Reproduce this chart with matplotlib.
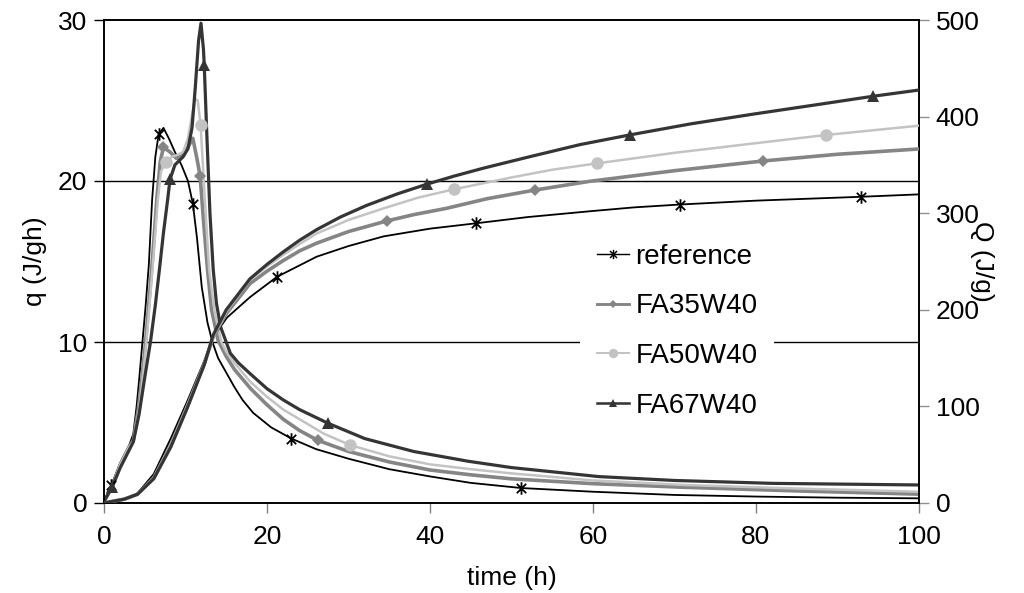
import numpy as np
import matplotlib
matplotlib.use('Agg')
import matplotlib.pyplot as plt
from matplotlib.path import Path
from matplotlib.lines import Line2D

plt.rcParams['font.family'] = ['Liberation Sans', 'DejaVu Sans']

# ---------------------------------------------------------------------------------------------------------------------
# heat flow q (J/gh), left axis

t_ref_q = [0, 0.9, 2.0, 3.1, 3.6, 4.0, 4.3, 4.7, 5.1, 5.5, 5.9, 6.3, 6.7, 7.3, 8.0, 8.7, 9.5, 10.3, 10.9, 11.4,
           12.0, 12.7, 13.3, 14.0, 15.0, 16.0, 17.0, 18.3, 20.5, 23.0, 26, 30, 35, 40, 45, 51.2, 60, 70, 80, 90, 100]
q_ref = [0.1, 1.1, 2.5, 3.6, 4.3, 6.0, 7.6, 9.9, 12.2, 14.8, 18.8, 21.5, 22.9, 23.3, 22.6, 21.8, 21.0, 20.0, 18.6, 16.5,
         13.4, 11.2, 10.0, 9.0, 8.1, 7.2, 6.4, 5.6, 4.7, 4.0, 3.35, 2.75, 2.1, 1.65, 1.25, 0.93, 0.7, 0.5, 0.4, 0.33, 0.29]

t_fa35_q = [0, 1.0, 2.0, 3.1, 3.6, 4.2, 4.7, 5.1, 5.6, 6.0, 6.5, 6.9, 7.3, 8.1, 8.9, 9.7, 10.3, 10.9, 11.4, 11.8,
            12.2, 12.7, 13.2, 14.0, 15.0, 16.0, 18.0, 20.0, 22.0, 24.0, 26.2, 30, 35, 40, 45, 50, 60, 71, 85, 100]
q_fa35 = [0.1, 1.0, 2.4, 3.5, 3.9, 5.8, 8.0, 10.0, 13.0, 15.5, 19.0, 21.2, 22.1, 21.8, 21.4, 21.6, 22.1, 22.65, 21.4, 20.3,
          17.6, 14.5, 12.0, 10.1, 9.1, 8.3, 7.1, 6.1, 5.2, 4.5, 3.9, 3.2, 2.55, 2.05, 1.75, 1.5, 1.2, 0.98, 0.75, 0.55]

t_fa50_q = [0, 1.0, 2.0, 3.1, 3.6, 4.3, 4.8, 5.2, 5.7, 6.1, 6.6, 7.0, 7.6, 8.3, 8.9, 9.7, 10.3, 10.8, 11.2, 11.5,
            11.85, 12.4, 12.9, 13.6, 14.4, 15.0, 16.0, 18.0, 20.0, 22.0, 24.0, 27.0, 30.2, 35, 40, 45, 50, 60, 71.3,
            85, 100]
q_fa50 = [0.1, 1.0, 2.4, 3.5, 3.8, 5.8, 8.0, 10.0, 13.0, 15.5, 18.8, 20.6, 21.2, 21.5, 21.6, 21.8, 22.65, 24.1, 25.1, 25.0,
          23.5, 18.6, 14.5, 11.8, 10.0, 9.4, 8.7, 7.5, 6.6, 5.8, 5.2, 4.3, 3.6, 2.9, 2.4, 2.1, 1.84, 1.4, 1.12,
          0.9, 0.7]

t_fa67_q = [0, 1.0, 2.0, 3.0, 3.6, 4.3, 5.0, 5.7, 6.3, 6.8, 7.3, 7.8, 8.1, 8.7, 9.7, 10.3, 10.8, 11.2, 11.6, 11.9,
            12.2, 12.3, 12.6, 13.0, 13.4, 13.8, 14.3, 15.5, 16.5, 18.0, 20.0, 22.0, 24.0, 27.5, 32, 38, 44.6, 50,
            60.7, 70, 82, 100]
q_fa67 = [0.1, 1.0, 2.2, 3.2, 3.8, 5.5, 7.8, 10.0, 12.3, 14.5, 16.8, 18.8, 20.1, 21.0, 21.5, 22.0, 23.3, 25.8, 28.7, 29.8,
          28.2, 27.2, 23.1, 18.0, 14.5, 12.4, 10.95, 9.3, 8.7, 8.0, 7.1, 6.4, 5.8, 4.95, 4.0, 3.2, 2.6, 2.2,
          1.64, 1.4, 1.22, 1.12]

# marker positions on the q curves
mt_ref_q, mq_ref = [0.9, 6.7, 10.9, 23.0, 51.2], [1.1, 22.9, 18.6, 4.0, 0.93]
mt_fa35_q, mq_fa35 = [7.3, 11.8, 26.2], [22.1, 20.3, 3.9]
mt_fa50_q, mq_fa50 = [7.6, 11.85, 30.2], [21.2, 23.5, 3.6]
mt_fa67_q, mq_fa67 = [1.0, 8.1, 12.3, 27.5], [1.0, 20.1, 27.2, 4.95]

# ---------------------------------------------------------------------------------------------------------------------
# cumulative heat Q (J/g), right axis

t_ref_Q = [0, 2.5, 4.1, 6.1, 8.2, 10.2, 12.3, 13.4, 15.1, 17.9, 21.2, 26.1, 30, 34.3, 40, 45.6, 52, 59.6, 65, 70.7,
           80, 92.9, 100]
Q_ref = [0, 4, 10, 30, 67, 105, 147, 172, 192, 213, 234, 255, 266, 276, 284, 289.5, 296, 302, 306, 309,
         313, 317, 319.5]

t_fa35_Q = [0, 2.5, 4.1, 6.1, 8.2, 10.2, 12.3, 13.4, 15.0, 17.9, 20.0, 22.0, 24.0, 26.1, 30, 34.7, 38, 42, 47, 52.9,
            59.6, 70, 80.8, 90, 100]
Q_fa35 = [0, 4, 9, 26, 60, 100, 144, 172, 196, 227, 240, 251, 261, 269, 281, 292, 298.5, 305, 315, 324,
          333, 344, 354, 361, 366.5]

t_fa50_Q = [0, 2.5, 4.1, 6.1, 8.2, 10.2, 12.3, 13.4, 15.0, 17.9, 20.0, 22.0, 24.0, 26.1, 30, 34.3, 38.5, 42.9, 50, 55,
            60.5, 70, 80, 88.6, 100]
Q_fa50 = [0, 4, 9, 26, 60, 100, 144, 172, 198, 231, 245, 257, 268, 279, 293, 305, 316, 324.7, 337, 345,
          351.6, 362.5, 372.5, 381, 390.6]

t_fa67_Q = [0, 2.5, 4.1, 6.1, 8.2, 10.2, 12.3, 13.4, 15.0, 17.9, 20.0, 22.0, 24.0, 26.1, 29, 32.2, 36, 39.6, 43, 46.5,
            52, 58.4, 64.5, 72, 80, 88, 94.3, 100]
Q_fa67 = [0, 4, 9, 25, 58, 98, 143, 174, 200, 232, 247, 260, 272, 283, 296, 308, 320, 330, 338.5, 346.5,
          358, 371, 381, 392.5, 403, 413, 421, 427.5]

mt_ref_Q, mQ_ref = [21.2, 45.6, 70.7, 92.9], [234, 289.5, 309, 317]
mt_fa35_Q, mQ_fa35 = [34.7, 52.9, 80.8], [292, 324, 354]
mt_fa50_Q, mQ_fa50 = [42.9, 60.5, 88.6], [324.7, 351.6, 381]
mt_fa67_Q, mQ_fa67 = [39.6, 64.5, 94.3], [330, 381, 421]

labels = ['reference', 'FA35W40', 'FA50W40', 'FA67W40']

# ---------------------------------------------------------------------------------------------------------------------
# styles

# excel style star: vertical bar plus a cross
star = Path([(0, -1), (0, 1), (-0.75, -0.75), (0.75, 0.75), (-0.75, 0.75), (0.75, -0.75)],
            [Path.MOVETO, Path.LINETO, Path.MOVETO, Path.LINETO, Path.MOVETO, Path.LINETO])

styles = {
    'reference': dict(color='black', lw=1.3, marker=star, ms=9, mew=1.3),
    'FA35W40': dict(color='#858585', lw=2.6, marker='D', ms=6, mew=0),
    'FA50W40': dict(color='#c3c3c3', lw=1.8, marker='o', ms=9, mew=0),
    'FA67W40': dict(color='#353535', lw=2.3, marker='^', ms=8, mew=0),
}

q_series = [(t_ref_q, q_ref, mt_ref_q, mq_ref), (t_fa35_q, q_fa35, mt_fa35_q, mq_fa35),
            (t_fa50_q, q_fa50, mt_fa50_q, mq_fa50), (t_fa67_q, q_fa67, mt_fa67_q, mq_fa67)]
Q_series = [(t_ref_Q, Q_ref, mt_ref_Q, mQ_ref), (t_fa35_Q, Q_fa35, mt_fa35_Q, mQ_fa35),
            (t_fa50_Q, Q_fa50, mt_fa50_Q, mQ_fa50), (t_fa67_Q, Q_fa67, mt_fa67_Q, mQ_fa67)]

fig = plt.figure(figsize=(10.24, 5.93), dpi=100)
ax = fig.add_axes([104 / 1024, (593 - 503) / 593, (919 - 104) / 1024, (503 - 20) / 593])
ax2 = ax.twinx()

fs = 19

for name, (t, v, mt, mv) in zip(labels, q_series):
    s = styles[name]
    ax.plot(t, v, color=s['color'], lw=s['lw'], zorder=3)
    ax.plot(mt, mv, ls='none', marker=s['marker'], ms=s['ms'], color=s['color'],
            mec=s['color'], mew=s['mew'], zorder=4)

for name, (t, v, mt, mv) in zip(labels, Q_series):
    s = styles[name]
    ax2.plot(t, v, color=s['color'], lw=s['lw'], zorder=3)
    ax2.plot(mt, mv, ls='none', marker=s['marker'], ms=s['ms'], color=s['color'],
             mec=s['color'], mew=s['mew'], zorder=4)

# horizontal grid at 10 and 20
for g in [10, 20]:
    ax.axhline(g, color='black', lw=1.0, zorder=1)

ax.set_xlim(0, 100)
ax.set_ylim(0, 30)
ax2.set_ylim(0, 500)
ax.set_xticks([0, 20, 40, 60, 80, 100])
ax.set_yticks([0, 10, 20, 30])
ax2.set_yticks([0, 100, 200, 300, 400, 500])

ax.tick_params(axis='x', direction='out', length=7, width=1, color='#808080', labelsize=fs, pad=9)
ax.tick_params(axis='y', direction='out', length=7, width=1, color='black', labelsize=fs, pad=5)
ax2.tick_params(axis='y', direction='out', length=7, width=1, color='#909090', labelsize=fs, pad=5)

for a in (ax, ax2):
    for sp in a.spines.values():
        sp.set_linewidth(1.2)
        sp.set_color('black')

ax.set_xlabel('time (h)', fontsize=fs, labelpad=12)
ax.set_ylabel('q (J/gh)', fontsize=fs, labelpad=8)
ax2.set_ylabel('Q (J/g)', fontsize=fs, rotation=270, labelpad=10)

# legend with white box, no border
handles = [Line2D([], [], color=styles[n]['color'], lw=styles[n]['lw'] * 0.8, marker=styles[n]['marker'],
                  ms=styles[n]['ms'] * 0.75, mec=styles[n]['color'], mew=styles[n]['mew'] * 0.8)
           for n in labels]
leg = ax2.legend(handles, labels, loc='upper left', bbox_to_anchor=(0.567, 0.60), fontsize=fs + 1,
                 frameon=True, fancybox=False, framealpha=1, edgecolor='none', facecolor='white',
                 handlelength=1.15, handletextpad=0.25, labelspacing=0.85, borderpad=0.6)
leg.set_zorder(10)

plt.savefig('out.png', dpi=100)
